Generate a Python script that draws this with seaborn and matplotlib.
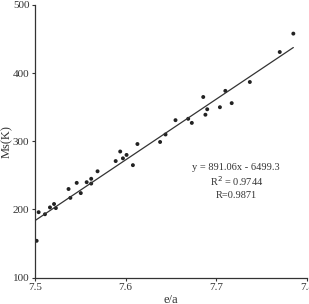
import matplotlib
matplotlib.use("Agg")
import matplotlib.pyplot as plt
import seaborn as sns
import numpy as np
import pandas as pd

ea = [7.5018, 7.504, 7.511, 7.5165, 7.521, 7.523, 7.537, 7.539, 7.546, 7.5505,
      7.557, 7.562, 7.562, 7.569, 7.589, 7.594, 7.597, 7.601, 7.608, 7.613,
      7.638, 7.644, 7.655, 7.669, 7.673, 7.6856, 7.688, 7.690, 7.704, 7.710,
      7.717, 7.737, 7.770, 7.785]
ms = [154, 196, 193, 203, 208, 202, 230, 217, 239, 224,
      240, 245, 238, 256, 271, 285, 275, 280, 265, 296,
      299, 310, 331, 333, 327, 365, 339, 347, 350, 374,
      356, 387, 431, 458]
slope = 891.06
intercept = -6499.3
fit_range = [7.5, 7.785]
x_ticks = [7.5, 7.6, 7.7, 7.8]
y_ticks = [100, 200, 300, 400, 500]

sns.set_theme(style="ticks")
plt.rcParams['font.family'] = ['Liberation Serif', 'DejaVu Serif']

fig = plt.figure(figsize=(3.09, 3.04), dpi=100)
ax = fig.add_axes([0.1133, 0.0868, 0.880, 0.8968])

df = pd.DataFrame({"e/a": ea, "Ms(K)": ms})
sns.scatterplot(data=df, x="e/a", y="Ms(K)", ax=ax, color="#222222", s=8,
                edgecolor="none", marker="o")
fx = np.array(fit_range)
sns.lineplot(x=fx, y=slope * fx + intercept, ax=ax, color="#333333", lw=0.9)

ax.set_xlim(7.5, 7.8)
ax.set_ylim(100, 500)
ax.set_xticks(x_ticks)
ax.set_xticklabels([str(t) for t in x_ticks])
ax.set_yticks(y_ticks)
for s in ["top", "right"]:
    ax.spines[s].set_visible(False)
for s in ["left", "bottom"]:
    ax.spines[s].set_color("#333333")
    ax.spines[s].set_linewidth(0.9)
ax.tick_params(axis="both", length=2, width=0.8, labelsize=8, colors="#333333",
               pad=2)
ax.set_xlabel("e/a", fontsize=9, color="#333333", labelpad=1)
ax.set_ylabel("Ms(K)", fontsize=9, color="#333333", labelpad=0)

ax.text(7.722, 262, "y = 891.06x - 6499.3", ha="center", va="center",
        fontsize=7.5, color="#333333")
ax.text(7.722, 241, "R$^2$ = 0.9744", ha="center", va="center",
        fontsize=7.5, color="#333333")
ax.text(7.722, 220, "R=0.9871", ha="center", va="center",
        fontsize=7.5, color="#333333")

fig.savefig("out.png", dpi=100)
